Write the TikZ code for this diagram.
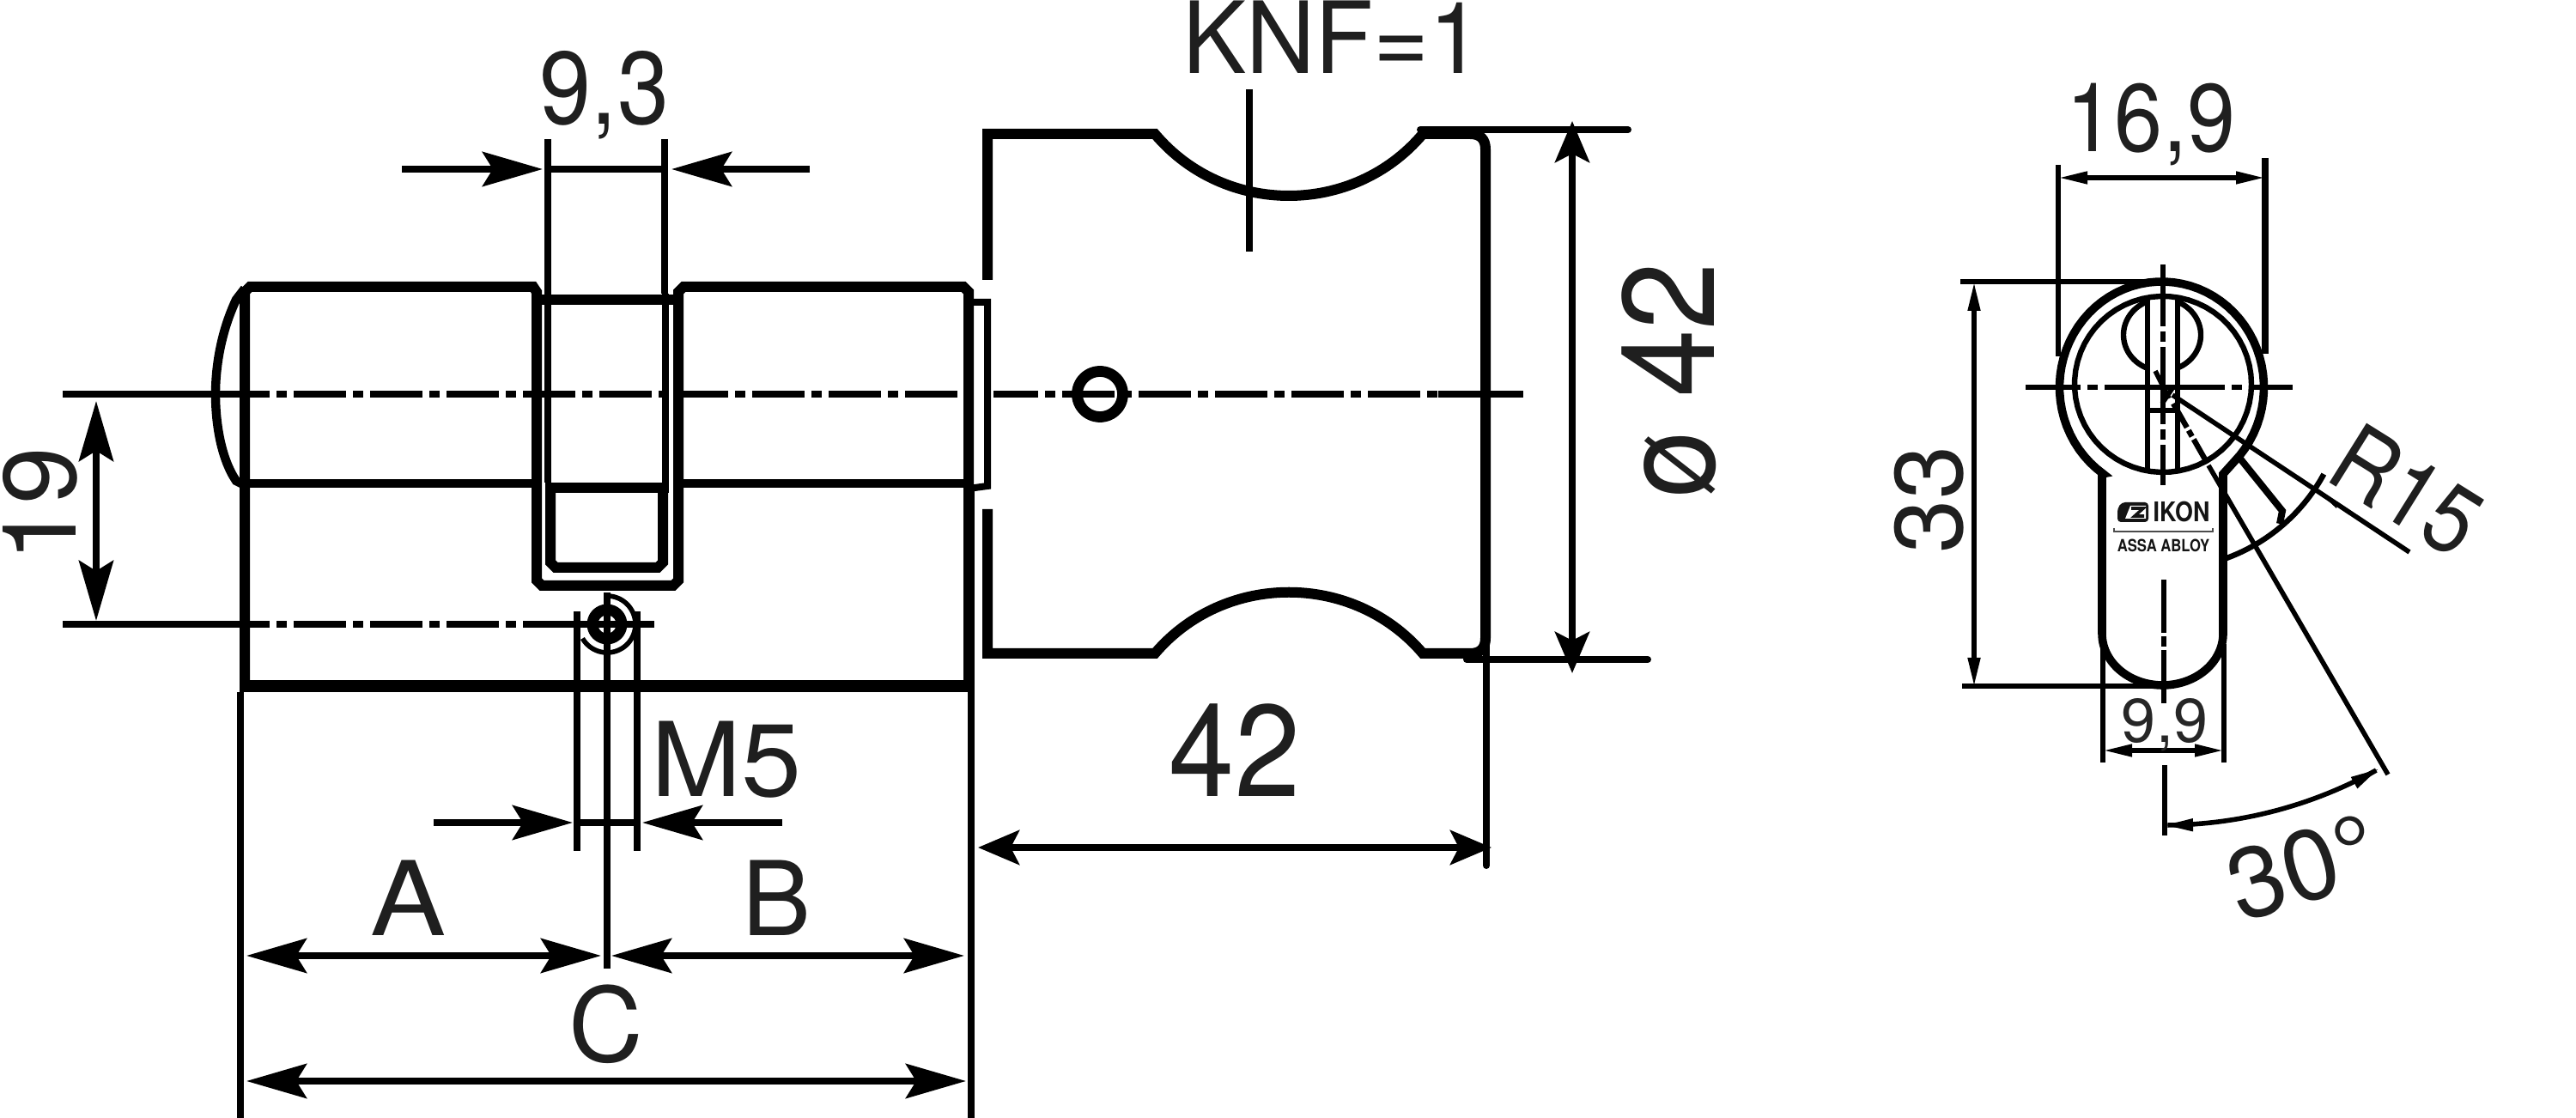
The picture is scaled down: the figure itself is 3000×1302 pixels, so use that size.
\documentclass[tikz,border=0pt]{standalone}
\usepackage{fontspec}
\setmainfont{TeX Gyre Heros}
\usetikzlibrary{arrows.meta}

\newcommand{\ovalpath}[6]{plot[domain=#5:#6,samples=60,variable=\t] ({#1+#3*cos(\t)},{#2+#4*sin(\t)})}
\newcommand{\ovallink}[6]{-- plot[domain=#5:#6,samples=60,variable=\t] ({#1+#3*cos(\t)},{#2+#4*sin(\t)})}

\tikzset{
    heavy/.style={line width=3pt, line join=miter},
    medium/.style={line width=2.4pt},
    dimline/.style={line width=2pt},
    fineline/.style={line width=1.4pt},
    centreline/.style={line width=1.8pt, dash pattern=on 15.25pt off 2pt on 3pt off 2pt},
    longtip/.tip={Stealth[length=17.5pt,width=10pt,inset=3pt]},
    shorttip/.tip={Stealth[length=12pt,width=10pt,inset=2.5pt]},
    finetip/.tip={Stealth[length=8.5pt,width=3.4pt,inset=0pt]},
    lbl/.style={inner sep=0pt, text=black!88, font=\fontsize{30}{30}\selectfont},
    biglbl/.style={inner sep=0pt, text=black!88, font=\fontsize{38}{38}\selectfont},
    viewlbl/.style={inner sep=0pt, text=black!88, font=\fontsize{28}{28}\selectfont}
}

\begin{document}
\begin{tikzpicture}[x=0.25pt, y=-0.25pt]
    \useasboundingbox (0,0) rectangle (3000,1302);

    % cylinder
    \draw[heavy] (285,806) -- (285,340) -- (291,334) -- (621,334) -- (625,340) -- (625,676) -- (631,682)
        -- (784,682) -- (790,676) -- (790,340) -- (796,334) -- (1122,334) -- (1128,340) -- (1128,799);
    \draw[heavy, line width=3.4pt] (280,799) -- (1133,799);
    \draw[heavy, line width=2.6pt] (285,336) -- (275,349) .. controls (258,385) and (251,425) .. (251,459)
        .. controls (251,495) and (258,535) .. (275,560) -- (285,565);
    \draw[medium] (285,563) -- (625,563) (790,563) -- (1128,563);
    \draw[heavy] (625,349) -- (790,349);
    \draw[heavy] (635,568) -- (779,568);
    \draw[heavy] (641,568) -- (641,655) -- (647,661) -- (766,661) -- (772,655) -- (772,568);
    \draw[dimline] (1128,352) -- (1150,352) -- (1150,566) -- (1128,569);

    % centre lines
    \draw[dimline] (73,459) -- (290,459);
    \draw[centreline, dash phase=9.25pt] (290,459) -- (1116,459);
    \draw[centreline, dash phase=2.25pt] (1157,459) -- (1675,459);
    \draw[dimline] (1675,459) -- (1774,459);
    \draw[dimline] (73,727) -- (290,727);
    \draw[centreline, dash phase=9.25pt] (290,727) -- (672,727);
    \draw[dimline] (672,727) -- (762,727);

    % fixing screw
    \draw[line width=3.2pt] \ovalpath{707}{727}{17}{17}{0}{360};
    \draw[line width=1.4pt] \ovalpath{707}{727}{33}{33}{-90}{150};
    \draw[dimline] (707,690) -- (707,1128);
    \draw[dimline] (672,712) -- (672,991) (742,712) -- (742,991);

    % knob
    \draw[heavy] (1150,326) -- (1150,156) -- (1345,156) .. controls (1426,252) and (1576,252) .. (1657,156)
        -- (1712,156) .. controls (1724,156) and (1730,162) .. (1730,174) -- (1730,743)
        .. controls (1730,755) and (1724,761) .. (1712,761) -- (1657,761)
        .. controls (1576,666) and (1426,666) .. (1345,761) -- (1150,761) -- (1150,593);
    \draw[line width=3.2pt] \ovalpath{1281}{459}{26.5}{26.5}{0}{360};

    % dimensions of the cylinder
    \draw[dimline] (638,162) -- (638,342) (774,162) -- (774,342);
    \draw[dimline] (638,197) -- (774,197);
    \draw[dimline, -longtip] (468,197) -- (632,197);
    \draw[dimline, -longtip] (943,197) -- (782,197);
    \draw[dimline] (638,342) -- (638,562) (775,342) -- (775,562);
    \draw[dimline, longtip-longtip] (112,467) -- (112,723);
    \draw[dimline] (672,958) -- (742,958);
    \draw[dimline, -longtip] (505,958) -- (667,958);
    \draw[dimline, -longtip] (911,958) -- (748,958);
    \draw[dimline, longtip-longtip] (287,1113) -- (700,1113);
    \draw[dimline, longtip-longtip] (712,1113) -- (1123,1113);
    \draw[dimline, longtip-longtip] (287,1259) -- (1125,1259);
    \draw[dimline] (280,806) -- (280,1302) (1131,569) -- (1131,1302);

    % dimensions of the knob
    \draw[dimline] (1455,104) -- (1455,293);
    \draw[dimline, line cap=round] (1654,151) -- (1896,151);
    \draw[dimline, line cap=round] (1708,768) -- (1919,768);
    \draw[dimline, line cap=round] (1731,743) -- (1731,1008);
    \draw[dimline, shorttip-shorttip] (1831,141) -- (1831,784);
    \draw[dimline, shorttip-shorttip] (1139,987) -- (1737,987);

    \node[lbl, anchor=base, xscale=0.9] (widthlabel) at (704,145) {9,3};
    \node[lbl, anchor=base, xscale=0.96, font=\fontsize{29}{29}\selectfont] (knflabel) at (1552,86) {KNF=1};
    \node[lbl, anchor=base, rotate=90] (heightlabel) at (88,588) {19};
    \node[lbl, anchor=base, xscale=1.05] (threadlabel) at (846,928) {M5};
    \node[lbl, anchor=base, xscale=1.1] (alabel) at (476,1090) {A};
    \node[lbl, anchor=base] (blabel) at (905,1090) {B};
    \node[lbl, anchor=base] (clabel) at (706,1237) {C};
    \node[biglbl, anchor=base, xscale=0.9] (knoblabel) at (1438,928) {42};
    \node[biglbl, anchor=base, rotate=90, xscale=0.93] (diamlabel) at (1996,443) {ø 42};

    % profile
    \draw[medium] (2448,737) -- (2448,552) \ovallink{2517.5}{451}{119}{123}{125}{405} -- (2589,552) -- (2589,740)
        \ovallink{2518.5}{738}{70.5}{60}{0}{180} -- cycle;
    \draw[line width=1.6pt] \ovalpath{2519}{447.5}{103}{102.5}{0}{360};
    \draw[line width=1.6pt] \ovalpath{2518}{390}{45}{42}{115}{245};
    \draw[line width=1.6pt] \ovalpath{2518}{390}{45}{42}{-65}{65};
    \draw[line width=1.6pt] (2501,347) -- (2501,548) (2536,347) -- (2536,548);
    \draw[fineline] (2501,478) -- (2536,478);
    \draw[fineline] (2510,432) -- (2526,464) (2518,470) -- (2530,452);

    % centre lines of the profile
    \draw[line width=1.6pt, dash pattern=on 35pt off 2pt on 3pt off 2pt, dash phase=19pt] (2359,451) -- (2670,451);
    \draw[line width=1.6pt, dash pattern=on 22.5pt off 1.5pt on 3pt off 1.5pt, dash phase=4.5pt] (2519,308) -- (2519,565);
    \draw[line width=1.6pt, dash pattern=on 15.5pt off 1pt on 3pt off 1pt] (2520,675) -- (2520,820);
    \draw[fineline] (2521,891) -- (2521,973);

    % dimensions of the profile
    \draw[line width=1.6pt] (2397,192) -- (2397,415);
    \draw[line width=1.8pt] (2638,184) -- (2638,412);
    \draw[fineline, finetip-finetip] (2397,207) -- (2638,207);
    \draw[fineline] (2283,328) -- (2510,328) (2285,799) -- (2519,799);
    \draw[fineline, finetip-finetip] (2299,328) -- (2299,800);
    \draw[line width=1.6pt] (2449,737) -- (2449,888) (2590,750) -- (2590,888);
    \draw[fineline, finetip-finetip] (2449,874) -- (2590,874);

    % radius and angle
    \draw[fineline] (2530,460) -- (2806,643);
    \fill (2697,570) -- (2723,586) -- (2721,592) -- cycle;
    \draw[line width=1.6pt] \ovalpath{2520}{451}{212}{212}{28.5}{70};
    \draw[line width=2pt] (2608,533) -- (2658,595) -- (2655,610);
    \draw[line width=1.6pt, dash pattern=on 8pt off 1pt on 2pt off 1pt] (2531,470) -- (2572,542);
    \draw[fineline] (2572,542) -- (2781,902);
    \draw[fineline, finetip-finetip] \ovalpath{2520}{451}{510}{510}{90}{60.5};

    \node[viewlbl, anchor=base, xscale=0.9] (widelabel) at (2505,177) {16,9};
    \node[viewlbl, anchor=base, rotate=90] (tallabel) at (2285,582) {33};
    \node[inner sep=0pt, anchor=base, text=black!85, font=\fontsize{18}{18}\selectfont] (necklabel) at (2521,865) {9,9};
    \node[viewlbl, rotate=-32, xscale=0.88] (radiuslabel) at (2803,571) {R15};
    \node[viewlbl, rotate=17, font=\fontsize{29}{29}\selectfont] (anglelabel) at (2682,1010) {30°};

    % logo
    \fill[black!92, rounded corners=1pt] (2471,585) -- (2502,585) -- (2502,608) -- (2466,608) -- (2466,592) -- cycle;
    \fill[white] (2481,589) -- (2499,589) -- (2499,604) -- (2475,604) -- cycle;
    \draw[black!92, line width=0.9pt] (2482,592) -- (2496,592) -- (2486,601) -- (2497,601);
    \node[inner sep=0pt, anchor=base west, xscale=0.85, text=black!92, font=\fontsize{7.9}{8}\selectfont\bfseries] (brandlabel) at (2507,608) {IKON};
    \draw[black!70, line width=0.4pt] (2462,615) -- (2462,619) -- (2577,619) -- (2577,615);
    \node[inner sep=0pt, anchor=base, xscale=0.85, text=black!92, font=\fontsize{4.9}{5}\selectfont\bfseries] (grouplabel) at (2519.5,643) {ASSA ABLOY};
\end{tikzpicture}
\end{document}
